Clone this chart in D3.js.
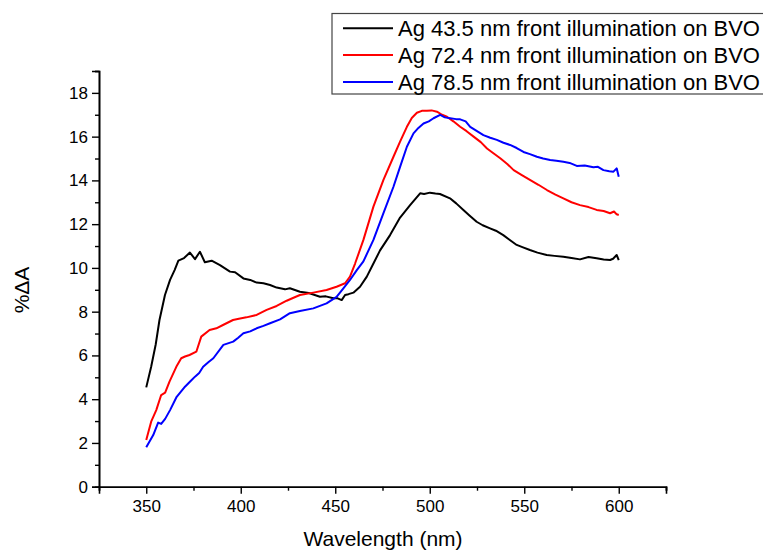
<!DOCTYPE html>
<html><head><meta charset="utf-8">
<script src="https://cdn.jsdelivr.net/npm/d3@7"></script>
<style>body{margin:0;background:#fff}svg{display:block}text{font-family:"Liberation Sans",Arial,sans-serif;fill:#000}</style>
</head><body><svg id="c" width="763" height="554"></svg>
<script>
const seriesNames = ["Ag 43.5 nm front illumination on BVO","Ag 72.4 nm front illumination on BVO","Ag 78.5 nm front illumination on BVO"];
const seriesColors = ["#000000","#ff0000","#0000ff"];
const xTicks = [350,400,450,500,550,600];
const yTicks = [0,2,4,6,8,10,12,14,16,18];

const blackNm  = [350,352.6,355,357,359.9,362.6,365,367,370,373.1,375.8,378.4,381,384.6,389,394.3,397,401.4,405,408.4,412,415.5,419,423.4,426,431.3,436,441.9,445,449,451,453.4,455.2,457,459.6,463.1,466.7,470.2,473.7,479,484.3,489.6,494.9,497,500.1,503,505.4,510.7,514,517.8,521,524.8,528,531.9,535,538.9,542,546,549,553,557,561.9,566,570.7,575,579.5,584,588.3,592,595.4,597,598.9,600];
const blackVal = [4.54,5.48,6.5,7.62,8.76,9.45,9.9,10.33,10.45,10.7,10.4,10.74,10.26,10.33,10.13,9.83,9.8,9.52,9.45,9.33,9.3,9.22,9.1,9.02,9.07,8.91,8.85,8.68,8.7,8.61,8.62,8.53,8.76,8.8,8.87,9.14,9.6,10.2,10.8,11.5,12.3,12.87,13.41,13.38,13.44,13.4,13.38,13.18,12.95,12.65,12.4,12.11,11.95,11.81,11.7,11.5,11.3,11.05,10.95,10.82,10.7,10.59,10.55,10.51,10.45,10.39,10.5,10.44,10.38,10.36,10.42,10.59,10.36];

const redNm  = [350,352.6,355.3,357.9,360,362.3,365.9,368.5,370.5,372.9,376.5,379.1,383.5,387.1,390.6,395.9,399,403,408.4,413.7,419,424.3,427,431.3,438.4,445.4,450.7,455.2,457.8,460.5,464.9,470.2,475.5,480.8,484.3,487.9,490.5,493.2,495.8,498.5,501,503.8,506.5,509.1,512.5,516.1,519.5,523.2,527,530.3,533.5,537.3,541,544.4,548.5,553,557.5,562,566.5,570.7,575,579.5,584,588.3,592,595.4,597.5,598.9,600];
const redVal = [2.13,2.97,3.5,4.19,4.3,4.8,5.48,5.87,5.95,6.02,6.17,6.86,7.16,7.24,7.39,7.62,7.68,7.74,7.85,8.08,8.26,8.5,8.6,8.76,8.87,8.99,9.14,9.3,9.6,10.2,11.28,12.8,14.02,15.08,15.77,16.45,16.85,17.09,17.18,17.18,17.2,17.14,17.0,16.91,16.7,16.45,16.25,16.0,15.75,15.46,15.25,15.01,14.75,14.47,14.25,14.02,13.8,13.56,13.35,13.18,13.0,12.87,12.78,12.65,12.6,12.5,12.58,12.45,12.42];

const blueNm  = [350,353.7,356.3,357.9,360,362.6,366.1,370.5,373.1,375.8,378,380.1,383,385.5,390.8,396,398.5,401.4,405,408.4,412,415.5,420.8,426,431.3,438.4,445.4,450.7,454.3,457.8,461.4,464.9,470.2,475.5,480.8,484.3,487.9,491.4,494,496.7,499.5,502,505.5,508,510.8,514,516.1,519,521.4,525,528.4,532,535.5,539,542.5,546,549.6,553,556.7,560,563.7,567,570.7,574,577.8,582,586.6,589,591.9,595,597.2,598.9,600];
const blueVal = [1.8,2.36,2.93,2.87,3.1,3.5,4.11,4.57,4.8,5.03,5.2,5.48,5.7,5.87,6.48,6.63,6.8,7.01,7.1,7.24,7.35,7.47,7.65,7.93,8.03,8.15,8.38,8.68,9.07,9.45,9.9,10.3,11.28,12.5,13.71,14.62,15.54,16.15,16.4,16.6,16.7,16.84,16.99,16.88,16.84,16.8,16.79,16.7,16.45,16.25,16.07,15.95,15.85,15.72,15.62,15.48,15.3,15.2,15.08,15.0,14.93,14.9,14.85,14.8,14.66,14.68,14.6,14.62,14.47,14.42,14.4,14.55,14.17];

const seriesNm = [blackNm, redNm, blueNm];
const seriesVal = [blackVal, redVal, blueVal];

const svg = d3.select("#c");
const x = d3.scaleLinear().domain([325,625]).range([99,666]);
const y = d3.scaleLinear().domain([0,19]).range([486.7,71]);

const xMinor = d3.range(325,626,25).filter(v=>!xTicks.includes(v));
const yMinor = d3.range(1,20,2);

const gx = svg.append("g").attr("transform","translate(0,486.7)");
gx.call(d3.axisBottom(x).tickValues(xTicks).tickSize(7).tickPadding(6).tickFormat(d3.format("d")));
gx.append("g").call(d3.axisBottom(x).tickValues(xMinor).tickSize(4).tickFormat(""));
const gy = svg.append("g").attr("transform","translate(99,0)");
gy.call(d3.axisLeft(y).tickValues(yTicks).tickSize(7).tickPadding(4).tickFormat(d3.format("d")));
gy.append("g").call(d3.axisLeft(y).tickValues(yMinor).tickSize(4).tickFormat(""));
svg.selectAll(".domain").attr("stroke","#000").attr("stroke-width",1.6);
svg.selectAll(".tick line").attr("stroke","#000").attr("stroke-width",1.4);
svg.selectAll(".tick text").style("font-size","17px").style("font-family","Liberation Sans, Arial, sans-serif");

const line = d3.line().x(d=>x(d[0])).y(d=>y(d[1]));
seriesNm.forEach((nm,i)=>{
  const pts = nm.map((v,j)=>[v, seriesVal[i][j]]);
  svg.append("path").datum(pts).attr("d",line).attr("fill","none")
     .attr("stroke",seriesColors[i]).attr("stroke-width",2).attr("stroke-linejoin","round");
});

svg.append("text").attr("x",383).attr("y",546).attr("text-anchor","middle").style("font-size","21px").text("Wavelength (nm)");
svg.append("text").attr("transform","translate(29,290) rotate(-90)").attr("text-anchor","middle").style("font-size","21px").text("%ΔA");

const lg = svg.append("g");
lg.append("rect").attr("x",332).attr("y",13.5).attr("width",460).attr("height",80.5).attr("fill","#fff").attr("stroke","#444").attr("stroke-width",1.2);
seriesNames.forEach((n,i)=>{
  const yy = 28.3 + i*26.8;
  lg.append("line").attr("x1",343).attr("x2",393).attr("y1",yy).attr("y2",yy).attr("stroke",seriesColors[i]).attr("stroke-width",2);
  lg.append("text").attr("x",398).attr("y",yy+7.8).style("font-size","22px").text(n);
});
</script></body></html>
